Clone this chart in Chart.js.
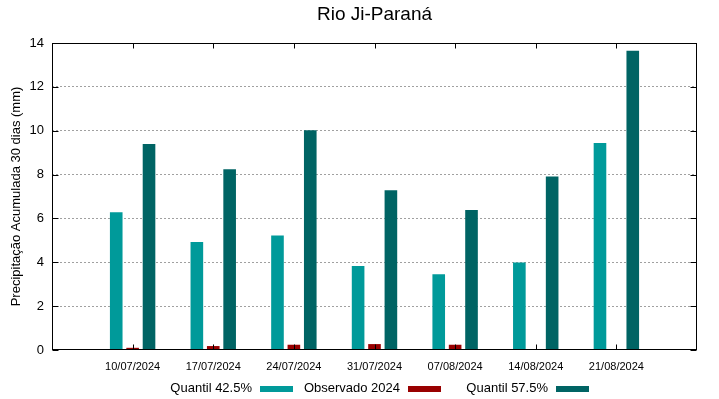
<!DOCTYPE html>
<html>
<head>
<meta charset="utf-8">
<script src="https://cdn.jsdelivr.net/npm/chart.js@4.4.1/dist/chart.umd.min.js"></script>
<style>
  html, body { margin: 0; padding: 0; background: #fff; }
  #wrap { width: 719px; height: 399px; position: relative; }
</style>
</head>
<body>
<div id="wrap"><canvas id="c"></canvas></div>
<script>
// ---- Data ----
const categories = ['10/07/2024', '17/07/2024', '24/07/2024', '31/07/2024', '07/08/2024', '14/08/2024', '21/08/2024'];
const quantil425 = [6.28, 4.92, 5.22, 3.83, 3.45, 3.99, 9.44];
const observado2024 = [0.10, 0.18, 0.24, 0.27, 0.24, 0, 0];
const quantil575 = [9.39, 8.24, 10.02, 7.29, 6.39, 7.91, 13.65];
const seriesNames = ['Quantil 42.5%', 'Observado 2024', 'Quantil 57.5%'];
const yTickValues = [0, 2, 4, 6, 8, 10, 12, 14];
const titleText = 'Rio Ji-Paraná';
const yAxisTitle = 'Precipitação Acumulada 30 dias (mm)';

// pad with an empty slot on each side (gnuplot-like x range)
const pad = arr => [null, ...arr, null];
const labels = ['', ...categories, ''];

Chart.defaults.font.family = '"Liberation Sans", Arial, sans-serif';
Chart.defaults.color = '#000';

const frame = {
  id: 'frame',
  afterDatasetsDraw(chart) {
    const { ctx, chartArea: a, scales: { x, y } } = chart;
    ctx.save();
    ctx.strokeStyle = '#000';
    ctx.lineWidth = 1;
    const L = Math.round(a.left) + 0.5, R = Math.round(a.right) - 0.5;
    const T = Math.round(a.top) + 0.5, B = Math.round(a.bottom) - 0.5;
    ctx.beginPath();
    // inward x ticks (bottom and top)
    for (let i = 1; i < labels.length - 1; i++) {
      const px = Math.round(x.getPixelForTick(i)) + 0.5;
      ctx.moveTo(px, B); ctx.lineTo(px, B - 5);
      ctx.moveTo(px, T); ctx.lineTo(px, T + 5);
    }
    // inward y ticks (left and right)
    y.ticks.forEach(t => {
      const py = Math.round(y.getPixelForValue(t.value)) + 0.5;
      ctx.moveTo(L, py); ctx.lineTo(L + 6, py);
      ctx.moveTo(R, py); ctx.lineTo(R - 6, py);
    });
    ctx.stroke();
    ctx.strokeRect(L, T, R - L, B - T);
    ctx.restore();
  },
  afterDraw(chart) {
    const { ctx, chartArea: a } = chart;
    ctx.save();
    ctx.font = '13px "Liberation Sans", Arial, sans-serif';
    ctx.textAlign = 'right';
    ctx.textBaseline = 'middle';
    chart.data.datasets.forEach((ds, i) => {
      const sx = a.left + 208 + i * 148;
      ctx.fillStyle = ds.backgroundColor;
      ctx.fillRect(sx, a.bottom + 36, 33, 6);
      ctx.fillStyle = '#000';
      ctx.fillText(ds.label, sx - 8, a.bottom + 38);
    });
    ctx.restore();
  }
};

new Chart(document.getElementById('c'), {
  type: 'bar',
  data: {
    labels: labels,
    datasets: [
      { label: seriesNames[0], data: pad(quantil425), backgroundColor: '#009a9a' },
      { label: seriesNames[1], data: pad(observado2024), backgroundColor: '#990000' },
      { label: seriesNames[2], data: pad(quantil575), backgroundColor: '#006464' }
    ]
  },
  options: {
    responsive: true,
    maintainAspectRatio: false,
    animation: false,
    layout: { padding: { left: 0, right: 22, top: 0, bottom: 0 } },
    datasets: { bar: { categoryPercentage: 0.61, barPercentage: 0.77, borderWidth: 0 } },
    plugins: {
      legend: { display: false },
      tooltip: { enabled: false },
      title: {
        display: true,
        text: titleText,
        fullSize: false,
        color: '#000',
        font: { size: 19, weight: 'normal' },
        padding: { top: 3, bottom: 17.2 }
      }
    },
    scales: {
      x: {
        type: 'category',
        offset: false,
        grid: { display: false, drawTicks: false },
        border: { display: false },
        ticks: { autoSkip: false, maxRotation: 0, minRotation: 0, padding: 10, font: { size: 11 }, color: '#000' },
        afterFit(scale) { scale.height = 49; }
      },
      y: {
        min: 0,
        max: 14,
        afterBuildTicks(scale) { scale.ticks = yTickValues.map(v => ({ value: v })); },
        grid: {
          drawTicks: false,
          lineWidth: 1,
          color: ctx => (ctx.tick && (ctx.tick.value === 0 || ctx.tick.value === 14)) ? 'rgba(0,0,0,0)' : '#a0a0a0'
        },
        border: { display: false, dash: [2, 2] },
        ticks: { padding: 8, font: { size: 13 }, color: '#000' },
        title: { display: true, text: yAxisTitle, font: { size: 13 }, color: '#000', padding: { top: 9, bottom: 0 } },
        afterFit(scale) { scale.width = 52; }
      }
    }
  },
  plugins: [frame]
});
</script>
</body>
</html>
